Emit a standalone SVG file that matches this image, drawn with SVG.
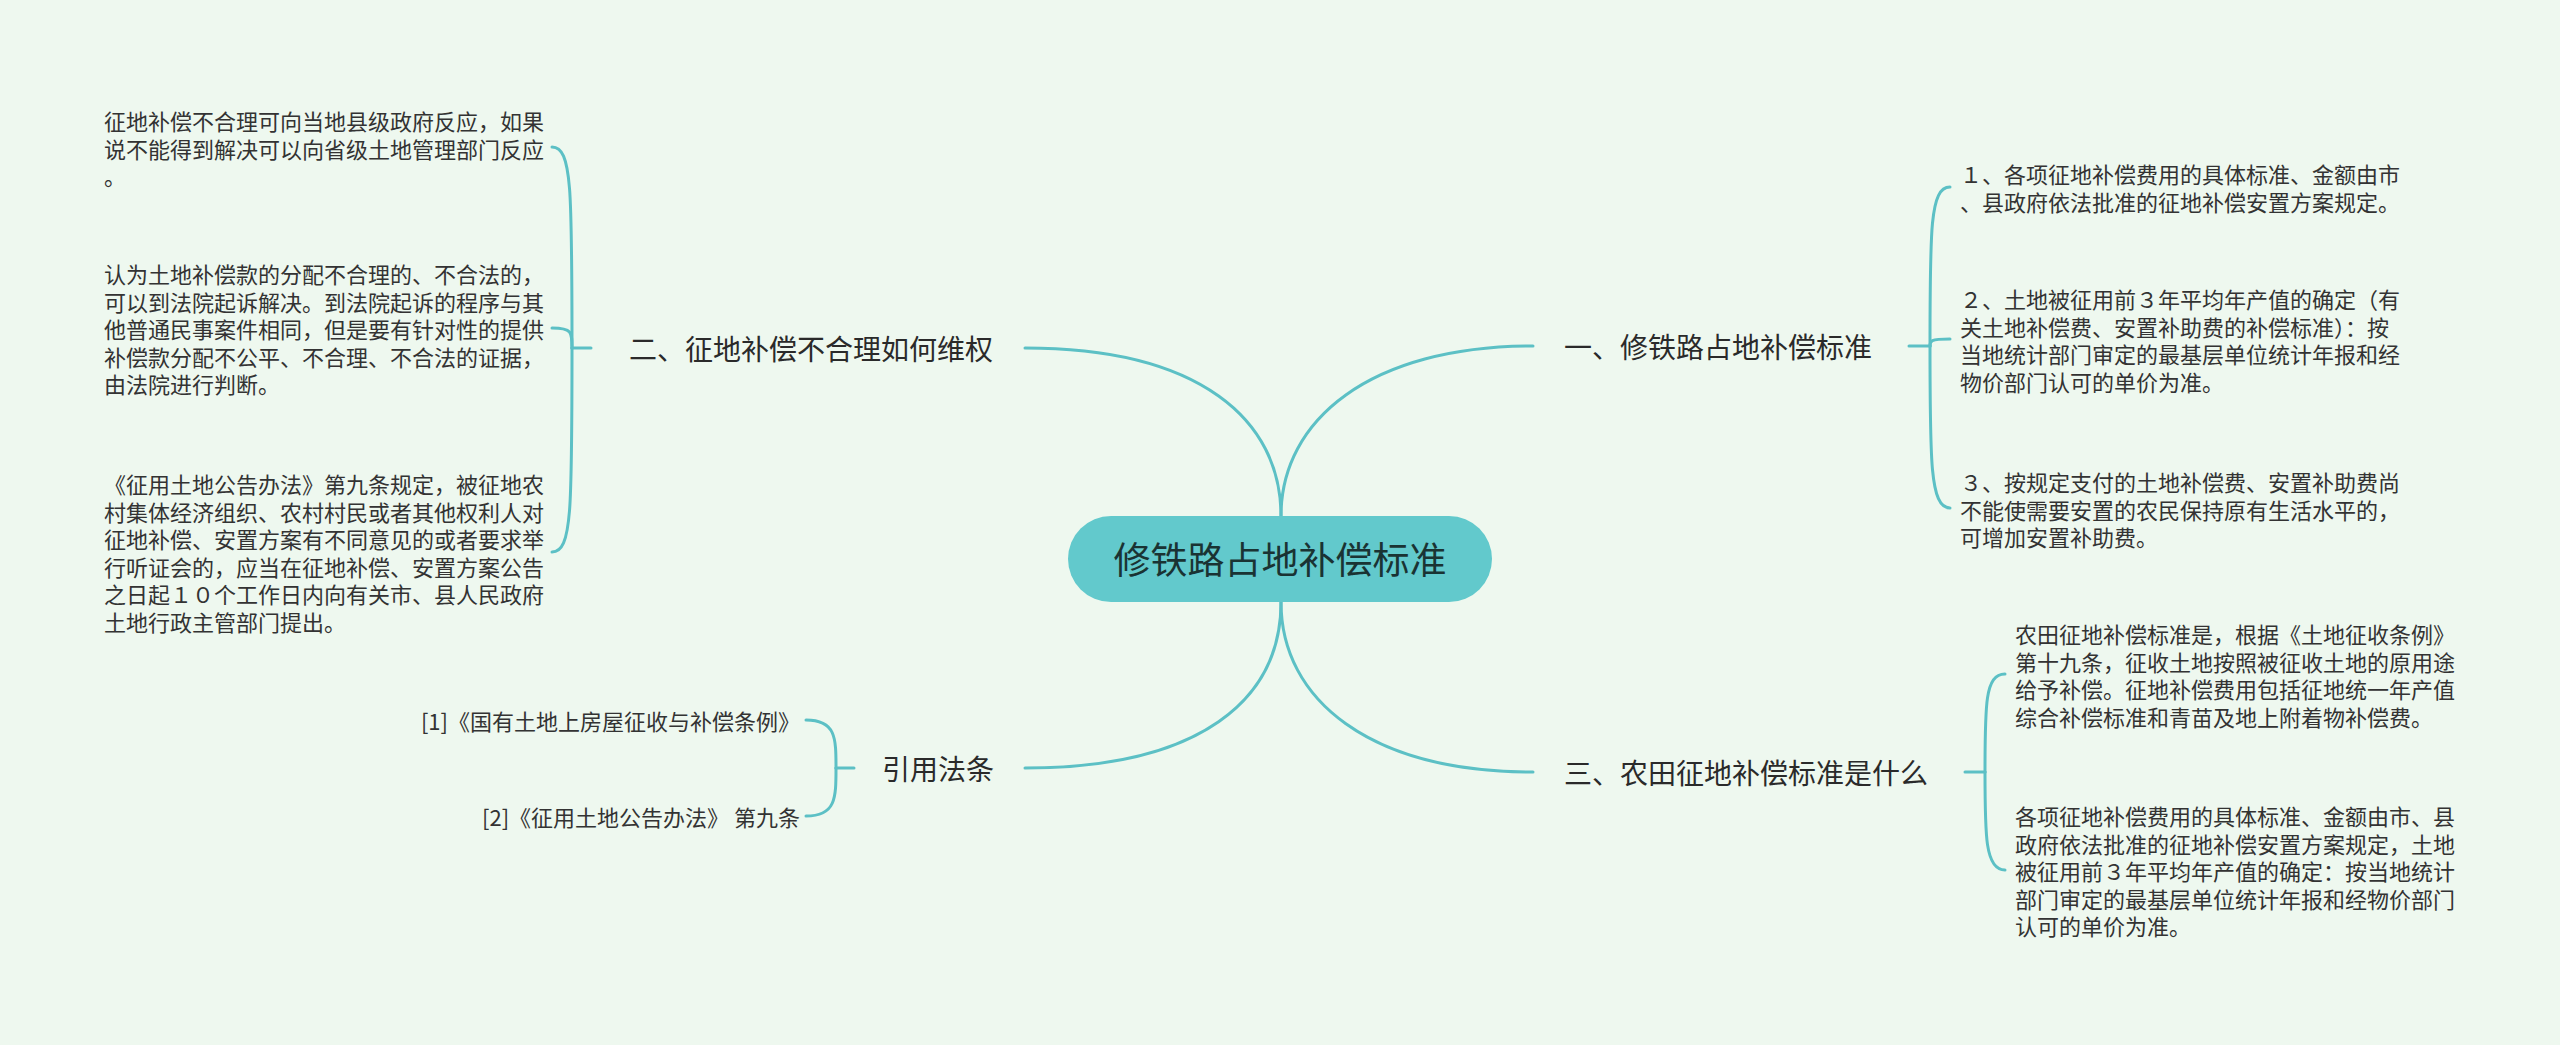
<svg xmlns="http://www.w3.org/2000/svg" width="2560" height="1045" viewBox="0 0 2560 1045">
<style>
text { font-family: "Noto Sans CJK SC", "Noto Sans", sans-serif; fill: #333333; dominant-baseline: central; }
.leaf { font-size: 22px; }
.branch { font-size: 28px; fill: #2a2a2a; }
.root { font-size: 37px; fill: #1a3333; }
.conn path { fill: none; stroke: #5cc0c5; stroke-width: 3; stroke-linecap: round; }
</style>
<rect x="0" y="0" width="2560" height="1045" fill="#eef8ef"/>

<g id="connectors" class="conn">
  <path d="M1281,516 C1281,420 1370,346 1533,346"/>
  <path d="M1281,516 C1281,420 1200,348 1025,348"/>
  <path d="M1281,602 C1281,700 1370,772 1533,772"/>
  <path d="M1281,602 C1281,700 1200,768 1025,768"/>
  <!-- branch 二 -->
  <path d="M591,348 L572,348"/>
  <path d="M572,348 C572,190 572,147 552,147"/>
  <path d="M572,348 C572,332 572,328 552,328"/>
  <path d="M572,348 C572,510 572,552 552,552"/>
  <!-- branch 一 -->
  <path d="M1909,346 L1930,346"/>
  <path d="M1930,346 C1930,230 1930,187 1950,187"/>
  <path d="M1930,346 C1930,341 1930,339 1950,339"/>
  <path d="M1930,346 C1930,460 1930,508 1950,508"/>
  <!-- branch 三 -->
  <path d="M1965,772 L1985,772"/>
  <path d="M1985,772 C1985,705 1985,674 2005,674"/>
  <path d="M1985,772 C1985,835 1985,870 2005,870"/>
  <!-- 引用法条 -->
  <path d="M854,768 L836,768"/>
  <path d="M836,768 C836,738 836,720 806,720"/>
  <path d="M836,768 C836,798 836,816 806,816"/>
</g>

<g id="root">
  <rect x="1068" y="516" width="424" height="86" rx="43" fill="#62c9cc"/>
  <text class="root" x="1280" y="558" text-anchor="middle">修铁路占地补偿标准</text>
</g>

<g id="branch-1">
  <text class="branch" x="1564" y="346">一、修铁路占地补偿标准</text>
</g>
<g id="branch-2">
  <text class="branch" x="629" y="348">二、征地补偿不合理如何维权</text>
</g>
<g id="branch-3">
  <text class="branch" x="1564" y="772">三、农田征地补偿标准是什么</text>
</g>
<g id="branch-ref">
  <text class="branch" x="882" y="768">引用法条</text>
</g>

<g id="leaf-2-1">
  <text class="leaf" x="104">
    <tspan x="104" y="120">征地补偿不合理可向当地县级政府反应，如果</tspan>
    <tspan x="104" y="147.5">说不能得到解决可以向省级土地管理部门反应</tspan>
    <tspan x="104" y="175">。</tspan>
  </text>
</g>
<g id="leaf-2-2">
  <text class="leaf" x="104">
    <tspan x="104" y="273">认为土地补偿款的分配不合理的、不合法的，</tspan>
    <tspan x="104" y="300.5">可以到法院起诉解决。到法院起诉的程序与其</tspan>
    <tspan x="104" y="328">他普通民事案件相同，但是要有针对性的提供</tspan>
    <tspan x="104" y="355.5">补偿款分配不公平、不合理、不合法的证据，</tspan>
    <tspan x="104" y="383">由法院进行判断。</tspan>
  </text>
</g>
<g id="leaf-2-3">
  <text class="leaf" x="104">
    <tspan x="104" y="483">《征用土地公告办法》第九条规定，被征地农</tspan>
    <tspan x="104" y="510.5">村集体经济组织、农村村民或者其他权利人对</tspan>
    <tspan x="104" y="538">征地补偿、安置方案有不同意见的或者要求举</tspan>
    <tspan x="104" y="565.5">行听证会的，应当在征地补偿、安置方案公告</tspan>
    <tspan x="104" y="593">之日起１０个工作日内向有关市、县人民政府</tspan>
    <tspan x="104" y="620.5">土地行政主管部门提出。</tspan>
  </text>
</g>

<g id="leaf-1-1">
  <text class="leaf" x="1960">
    <tspan x="1960" y="173">１、各项征地补偿费用的具体标准、金额由市</tspan>
    <tspan x="1960" y="200.5">、县政府依法批准的征地补偿安置方案规定。</tspan>
  </text>
</g>
<g id="leaf-1-2">
  <text class="leaf" x="1960">
    <tspan x="1960" y="298">２、土地被征用前３年平均年产值的确定（有</tspan>
    <tspan x="1960" y="325.5">关土地补偿费、安置补助费的补偿标准）：按</tspan>
    <tspan x="1960" y="353">当地统计部门审定的最基层单位统计年报和经</tspan>
    <tspan x="1960" y="380.5">物价部门认可的单价为准。</tspan>
  </text>
</g>
<g id="leaf-1-3">
  <text class="leaf" x="1960">
    <tspan x="1960" y="481">３、按规定支付的土地补偿费、安置补助费尚</tspan>
    <tspan x="1960" y="508.5">不能使需要安置的农民保持原有生活水平的，</tspan>
    <tspan x="1960" y="536">可增加安置补助费。</tspan>
  </text>
</g>

<g id="leaf-3-1">
  <text class="leaf" x="2015">
    <tspan x="2015" y="633">农田征地补偿标准是，根据《土地征收条例》</tspan>
    <tspan x="2015" y="660.5">第十九条，征收土地按照被征收土地的原用途</tspan>
    <tspan x="2015" y="688">给予补偿。征地补偿费用包括征地统一年产值</tspan>
    <tspan x="2015" y="715.5">综合补偿标准和青苗及地上附着物补偿费。</tspan>
  </text>
</g>
<g id="leaf-3-2">
  <text class="leaf" x="2015">
    <tspan x="2015" y="815">各项征地补偿费用的具体标准、金额由市、县</tspan>
    <tspan x="2015" y="842.5">政府依法批准的征地补偿安置方案规定，土地</tspan>
    <tspan x="2015" y="870">被征用前３年平均年产值的确定：按当地统计</tspan>
    <tspan x="2015" y="897.5">部门审定的最基层单位统计年报和经物价部门</tspan>
    <tspan x="2015" y="925">认可的单价为准。</tspan>
  </text>
</g>

<g id="leaf-ref-1">
  <text class="leaf" x="800" y="720" text-anchor="end">[1]《国有土地上房屋征收与补偿条例》</text>
</g>
<g id="leaf-ref-2">
  <text class="leaf" x="800" y="816" text-anchor="end">[2]《征用土地公告办法》 第九条</text>
</g>
</svg>
